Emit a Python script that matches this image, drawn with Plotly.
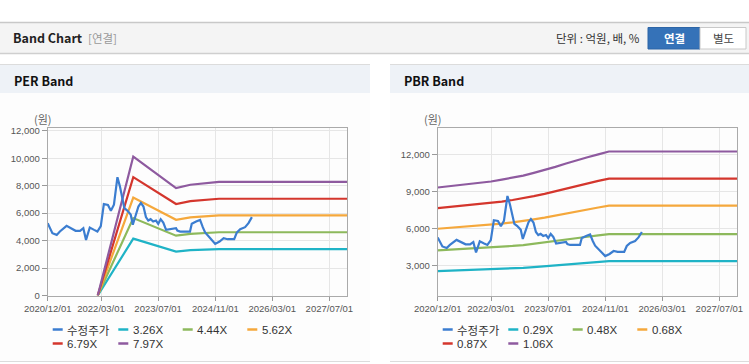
import plotly.graph_objects as go

# ---------------- data ----------------
price_dates = ["2020-12-01","2021-01-10","2021-02-16","2021-03-15","2021-05-11","2021-06-15","2021-07-27",
               "2021-09-03","2021-10-01","2021-10-24","2021-11-25","2022-01-01","2022-01-29","2022-02-27",
               "2022-03-25","2022-04-29","2022-05-24","2022-06-19","2022-07-19","2022-08-09","2022-09-02",
               "2022-09-16","2022-10-11","2022-11-09","2022-11-27","2022-12-16","2023-01-14","2023-02-04",
               "2023-02-26","2023-03-19","2023-04-08","2023-04-28","2023-05-20","2023-06-13","2023-07-02",
               "2023-07-23","2023-08-14","2023-09-07","2023-10-05","2023-11-03","2023-12-01","2023-12-12",
               "2024-01-05","2024-03-29","2024-04-13","2024-05-20","2024-06-23","2024-07-16","2024-08-05",
               "2024-09-18","2024-10-30","2024-12-06","2025-01-10","2025-02-13","2025-04-10","2025-05-02",
               "2025-05-31","2025-07-12","2025-08-10","2025-09-08"]
price_values = [5270,4540,4415,4660,5070,4900,4710,4710,4900,4050,4950,4780,4660,5050,6660,6600,6170,6610,
                8620,7950,6850,6360,6190,5900,5150,5630,6480,6750,6480,5710,5460,5560,5390,5460,5220,5560,
                5310,4780,4830,4900,4900,4730,4660,4660,5220,5390,5510,4980,4600,4170,3760,3930,4170,4100,
                4100,4580,4830,4980,5270,5710]

per_dates = ["2022-02-01","2022-12-01","2023-12-01","2024-04-01","2024-12-01","2027-12-01"]
per_326 = [0, 4140, 3201, 3299, 3384, 3384]
per_444 = [0, 5639, 4360, 4493, 4609, 4609]
per_562 = [0, 7137, 5519, 5687, 5834, 5834]
per_679 = [0, 8623, 6668, 6871, 7048, 7048]
per_797 = [0, 10122, 7827, 8066, 8273, 8273]

pbr_dates = ["2020-12-01","2021-03-01","2021-06-01","2021-09-01","2021-12-01","2022-03-01","2022-06-01",
             "2022-09-01","2022-12-01","2023-03-01","2023-06-01","2023-09-01","2023-12-01","2024-03-01",
             "2024-06-01","2024-09-01","2024-12-01","2027-12-01"]
pbr_029 = [2546,2572,2598,2625,2654,2680,2723,2767,2810,2871,2932,3004,3080,3155,3216,3280,3344,3344]
pbr_048 = [4214,4258,4301,4344,4392,4435,4507,4579,4651,4752,4853,4973,5098,5222,5323,5429,5534,5534]
pbr_068 = [5970,6032,6093,6154,6222,6283,6385,6487,6589,6732,6875,7045,7222,7398,7541,7691,7840,7840]
pbr_087 = [7639,7717,7795,7874,7961,8039,8169,8300,8430,8613,8796,9013,9239,9466,9648,9840,10031,10031]
pbr_106 = [9307,9402,9498,9593,9699,9794,9953,10112,10271,10494,10717,10982,11257,11533,11755,11989,12222,12222]

x_tickvals = ["2020-12-01","2022-03-01","2023-07-01","2024-11-01","2026-03-01","2027-07-01"]
x_ticktext = ["2020/12/01","2022/03/01","2023/07/01","2024/11/01","2026/03/01","2027/07/01"]
per_yticks = [0, 2000, 4000, 6000, 8000, 10000, 12000]
pbr_yticks = [3000, 6000, 9000, 12000]

per_names = ["수정주가", "3.26X", "4.44X", "5.62X", "6.79X", "7.97X"]
pbr_names = ["수정주가", "0.29X", "0.48X", "0.68X", "0.87X", "1.06X"]
colors = ["#3b7dd0", "#1fb3c6", "#8db95c", "#f5a83c", "#d4362d", "#8e5a9f"]

# ---------------- figure ----------------
W, H = 749, 364
FONT = "Liberation Sans, Noto Sans CJK KR, sans-serif"
KFONT = "Noto Sans CJK KR, Liberation Sans, sans-serif"

def px(x):
    return x / W

def py(y):
    return 1 - y / H

fig = go.Figure()

per_series = [(price_dates, price_values), (per_dates, per_326), (per_dates, per_444),
              (per_dates, per_562), (per_dates, per_679), (per_dates, per_797)]
pbr_series = [(price_dates, price_values), (pbr_dates, pbr_029), (pbr_dates, pbr_048),
              (pbr_dates, pbr_068), (pbr_dates, pbr_087), (pbr_dates, pbr_106)]

for order in [1, 2, 3, 4, 5, 0]:
    d, v = per_series[order]
    fig.add_trace(go.Scatter(x=d, y=v, mode="lines", name=per_names[order],
                             line=dict(color=colors[order], width=2.2), xaxis="x", yaxis="y",
                             showlegend=False))
for order in [1, 2, 3, 4, 5, 0]:
    d, v = pbr_series[order]
    fig.add_trace(go.Scatter(x=d, y=v, mode="lines", name=pbr_names[order],
                             line=dict(color=colors[order], width=2.2), xaxis="x2", yaxis="y2",
                             showlegend=False))

xax = dict(type="date", range=["2020-12-01", "2027-12-01"], tickvals=x_tickvals, ticktext=x_ticktext,
           showgrid=True, gridcolor="#e6e6e6", gridwidth=1, ticks="outside", ticklen=4, tickcolor="#999",
           showline=True, linecolor="#aaaaaa", linewidth=1, mirror=True, zeroline=False, automargin=False,
           tickfont=dict(family=FONT, size=9.5, color="#555"), fixedrange=True)
ydom = [py(295.5), py(128.3)]
yax = dict(showgrid=True, gridcolor="#e6e6e6", gridwidth=1, ticks="outside", ticklen=5, tickcolor="#999",
           showline=True, linecolor="#aaaaaa", linewidth=1, mirror=True, zeroline=False, automargin=False,
           tickformat=",d", tickfont=dict(family=FONT, size=9.5, color="#555"), fixedrange=True)

fig.update_layout(
    template="none",
    width=W, height=H, margin=dict(l=0, r=0, t=0, b=0, pad=0), autosize=False,
    paper_bgcolor="white", plot_bgcolor="white", showlegend=False,
    xaxis=dict(xax, domain=[px(47.7), px(347.3)], anchor="y"),
    yaxis=dict(yax, domain=ydom, range=[0, 12180], tickvals=per_yticks, anchor="x"),
    xaxis2=dict(xax, domain=[px(437.7), px(737.3)], anchor="y2"),
    yaxis2=dict(yax, domain=ydom, range=[570, 14100], tickvals=pbr_yticks, anchor="x2"),
)

shapes = []
ann = []

def rect(x0, y0, x1, y1, fill, line=None, layer="below"):
    shapes.append(dict(type="rect", xref="paper", yref="paper", x0=px(x0), x1=px(x1), y0=py(y1), y1=py(y0),
                       fillcolor=fill, line=dict(color=line or fill, width=1 if line else 0), layer=layer))

def hline(x0, x1, y, color, width=1, layer="below"):
    shapes.append(dict(type="line", xref="paper", yref="paper", x0=px(x0), x1=px(x1), y0=py(y), y1=py(y),
                       line=dict(color=color, width=width), layer=layer))

def text(x, y, s, size=11, color="#333", bold=False, xanchor="left", family=KFONT):
    if bold:
        s = "<b>" + s + "</b>"
    ann.append(dict(xref="paper", yref="paper", x=px(x), y=py(y), text=s, showarrow=False,
                    xanchor=xanchor, yanchor="middle", font=dict(family=family, size=size, color=color)))

# top header bar
rect(0, 23, 749, 53, "#f4f4f4")
hline(0, 749, 22.5, "#c8c8c8", 1.5)
hline(0, 749, 53.5, "#cfcfcf", 1.5)
text(11, 38, "Band Chart", size=12.5, color="#222", bold=True)
text(86, 38.5, "[연결]", size=11.5, color="#999", xanchor="left")
text(642, 38.5, "단위 : 억원, 배, %", size=11.5, color="#333", xanchor="right")
shapes.append(dict(type="rect", xref="paper", yref="paper", x0=px(648), x1=px(700), y0=py(49), y1=py(27.5),
                   fillcolor="#3572b8", line=dict(color="#2d65a6", width=1), layer="below"))
shapes.append(dict(type="rect", xref="paper", yref="paper", x0=px(700), x1=px(746), y0=py(49), y1=py(27.5),
                   fillcolor="#ffffff", line=dict(color="#c8c8c8", width=1), layer="below"))
text(674, 38.5, "연결", size=11.5, color="#ffffff", bold=True, xanchor="center")
text(723, 38.5, "별도", size=11.5, color="#444", xanchor="center")

# panel headers / bodies
for x0, x1, title in [(0, 370, "PER Band"), (390, 749, "PBR Band")]:
    rect(x0, 93, x1, 361, "#fdfdfd")
    rect(x0, 65, x1, 93, "#eef2f7")
    hline(x0, x1, 64.5, "#dcdcdc", 1.2)
    hline(x0, x1, 361.5, "#dcdcdc", 1.2)
    text(x0 + 11.5, 80, title, size=12.5, color="#111", bold=True)

# y-axis unit labels
text(42.5, 118.7, "(원)", size=11, color="#666", xanchor="center")
text(432.5, 118.7, "(원)", size=11, color="#666", xanchor="center")

# custom legends
leg_x = [52.7, 118.3, 182.7, 247.3, 52.7, 118.3]
leg_y = [329.5, 329.5, 329.5, 329.5, 343.5, 343.5]
for off, names in [(0, per_names), (390, pbr_names)]:
    for i, name in enumerate(names):
        x0 = leg_x[i] + off
        y = leg_y[i]
        hline(x0, x0 + 10, y, colors[i], 2.5, layer="above")
        text(x0 + 12.5, y, name, size=11.5, color="#333",
             family=(KFONT if i == 0 else FONT))

fig.update_layout(shapes=shapes, annotations=ann)
fig.write_html("out.html", config={"displayModeBar": False},
               post_script="document.body.style.margin='0';document.body.style.padding='0';"
                           "document.documentElement.style.overflow='hidden';")
